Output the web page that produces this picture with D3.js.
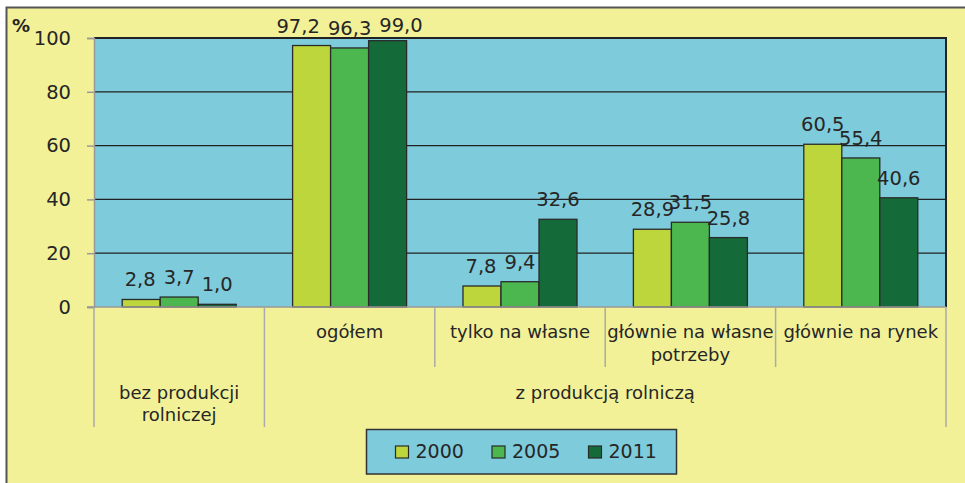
<!DOCTYPE html>
<html>
<head>
<meta charset="utf-8">
<script src="https://cdn.jsdelivr.net/npm/d3@7"></script>
<style>
  body { margin: 0; background: #fff; }
  svg text { font-family: "DejaVu Sans", sans-serif; fill: #262626; }
</style>
</head>
<body>
<div id="chart"></div>
<script>
// dane z wykresu (%)
const categories = ["bez produkcji rolniczej", "ogółem", "tylko na własne", "głównie na własne potrzeby", "głównie na rynek"];
const years = ["2000", "2005", "2011"];
const values2000 = [2.8, 97.2, 7.8, 28.9, 60.5];
const values2005 = [3.7, 96.3, 9.4, 31.5, 55.4];
const values2011 = [1.0, 99.0, 32.6, 25.8, 40.6];
const yTicks = [0, 20, 40, 60, 80, 100];
// etykiety osi X: wiersz 1 (podkategorie), wiersz 2 (grupy)
const catLabelsRow1 = [[], ["ogółem"], ["tylko na własne"], ["głównie na własne", "potrzeby"], ["głównie na rynek"]];
const groupLabels = [
  { from: 0, to: 0, lines: ["bez produkcji", "rolniczej"] },
  { from: 1, to: 4, lines: ["z produkcją rolniczą"] }
];

const colors = { "2000": "#bdd63b", "2005": "#4bb74e", "2011": "#146b39" };
const seriesByYear = { "2000": values2000, "2005": values2005, "2011": values2011 };

const W = 965, H = 483;
const plot = { left: 94, right: 946, top: 38, bottom: 307 };

const fmt = v => d3.format(".1f")(v).replace(".", ",");

const svg = d3.select("#chart").append("svg")
  .attr("width", W).attr("height", H);

// tło ramki
svg.append("rect")
  .attr("x", 6.5).attr("y", 7.5)
  .attr("width", W + 20).attr("height", H + 20)
  .attr("fill", "#f3f198")
  .attr("stroke", "#555").attr("stroke-width", 2);

// tło obszaru wykresu
svg.append("rect")
  .attr("x", plot.left).attr("y", plot.top)
  .attr("width", plot.right - plot.left).attr("height", plot.bottom - plot.top)
  .attr("fill", "#7ecbdb");

// ==== skale ====
const x = d3.scaleBand()
  .domain(categories)
  .range([plot.left, plot.right])
  .padding(0);

const xIn = d3.scaleBand()
  .domain(years)
  .range([0, x.bandwidth()])
  .paddingInner(0)
  .paddingOuter(0.742);

const y = d3.scaleLinear()
  .domain([0, 100])
  .range([plot.bottom, plot.top]);

// linie siatki
svg.append("g")
  .selectAll("line")
  .data(yTicks.filter(t => t > 0 && t < 100))
  .enter().append("line")
    .attr("x1", plot.left).attr("x2", plot.right)
    .attr("y1", d => y(d)).attr("y2", d => y(d))
    .attr("stroke", "#222").attr("stroke-width", 1.3);

// górna i prawa krawędź
svg.append("path")
  .attr("d", `M${plot.left},${y(100)}H${plot.right}V${plot.bottom}`)
  .attr("fill", "none")
  .attr("stroke", "#222").attr("stroke-width", 2);

// oś Y
const yAxis = svg.append("g")
  .attr("transform", `translate(${plot.left},0)`)
  .call(d3.axisLeft(y).tickValues(yTicks).tickSize(7).tickPadding(16).tickFormat(d3.format("d")));
yAxis.select(".domain").attr("stroke", "#999").attr("stroke-width", 1.5);
yAxis.selectAll(".tick line").attr("stroke", "#999").attr("stroke-width", 1.5);
yAxis.selectAll(".tick text")
  .style("font-family", "DejaVu Sans")
  .style("font-size", "19.5px")
  .attr("fill", "#262626");

svg.append("text")
  .attr("x", 12).attr("y", 32)
  .style("font-size", "18px").style("font-weight", "bold")
  .text("%");

// ==== słupki ====
const rows = categories.map((c, i) => ({ cat: c, items: years.map(yr => ({ year: yr, value: seriesByYear[yr][i] })) }));

const groups = svg.selectAll(".grp")
  .data(rows)
  .enter().append("g")
    .attr("class", "grp")
    .attr("transform", d => `translate(${x(d.cat)},0)`);

groups.selectAll("rect")
  .data(d => d.items)
  .enter().append("rect")
    .attr("x", d => xIn(d.year))
    .attr("y", d => y(d.value))
    .attr("width", xIn.bandwidth())
    .attr("height", d => y(0) - y(d.value))
    .attr("fill", d => colors[d.year])
    .attr("stroke", "#2a2a2a").attr("stroke-width", 1.3);

// etykiety wartości (nad słupkami, przycięte do górnej krawędzi)
groups.each(function () {
  const labels = d3.select(this).selectAll("text.val")
    .data(d => d.items)
    .enter().append("text")
      .attr("class", "val")
      .attr("x", d => xIn(d.year) + xIn.bandwidth() / 2)
      .attr("y", d => Math.max(y(d.value) - 13, 32))
      .attr("text-anchor", "middle")
      .style("font-size", "19.5px")
      .text(d => fmt(d.value));

  // rozsuń etykiety na tej samej wysokości, środkowa zostaje
  const nodes = labels.nodes();
  const gap = 8;
  const mid = nodes[1];
  const mb = mid.getBBox();
  const my = +mid.getAttribute("y");
  const left = nodes[0], right = nodes[2];
  const lb = left.getBBox(), rb = right.getBBox();
  if (Math.abs(+left.getAttribute("y") - my) < 6 && lb.x + lb.width + gap > mb.x) {
    left.setAttribute("x", mb.x - gap - lb.width / 2);
  }
  if (Math.abs(+right.getAttribute("y") - my) < 6 && mb.x + mb.width + gap > rb.x) {
    right.setAttribute("x", mb.x + mb.width + gap + rb.width / 2);
  }
});

// oś X (dolna linia)
svg.append("line")
  .attr("x1", plot.left - 7).attr("x2", plot.right)
  .attr("y1", plot.bottom).attr("y2", plot.bottom)
  .attr("stroke", "#999").attr("stroke-width", 1.5);

// separatory kategorii
const row1Bottom = 367, row2Bottom = 427;
const bounds = categories.map(c => x(c)).concat([plot.right]);
svg.append("g")
  .selectAll("line")
  .data(bounds)
  .enter().append("line")
    .attr("x1", d => d).attr("x2", d => d)
    .attr("y1", plot.bottom)
    .attr("y2", (d, i) => (i === 0 || i === 1 || i === bounds.length - 1) ? row2Bottom : row1Bottom)
    .attr("stroke", "#aaa").attr("stroke-width", 1.5);

// etykiety wiersz 1
svg.append("g")
  .selectAll("text")
  .data(catLabelsRow1.map((lines, i) => ({ lines, cat: categories[i] })))
  .enter().append("text")
    .attr("text-anchor", "middle")
    .style("font-size", "18px")
    .each(function (d) {
      const t = d3.select(this);
      d.lines.forEach((ln, k) => {
        t.append("tspan")
          .attr("x", x(d.cat) + x.bandwidth() / 2)
          .attr("y", 338 + k * 22.5)
          .text(ln);
      });
    });

// etykiety wiersz 2 (grupy)
svg.append("g")
  .selectAll("text")
  .data(groupLabels)
  .enter().append("text")
    .attr("text-anchor", "middle")
    .style("font-size", "18px")
    .each(function (d) {
      const t = d3.select(this);
      const cx = (x(categories[d.from]) + x(categories[d.to]) + x.bandwidth()) / 2;
      d.lines.forEach((ln, k) => {
        t.append("tspan")
          .attr("x", cx)
          .attr("y", 399 + k * 21.5)
          .text(ln);
      });
    });

// ==== legenda ====
const lg = svg.append("g").attr("transform", "translate(366.5,429.5)");
lg.append("rect")
  .attr("width", 310).attr("height", 44.5)
  .attr("fill", "#7ecbdb")
  .attr("stroke", "#333").attr("stroke-width", 1.5);

const items = lg.selectAll(".lg-item")
  .data(years)
  .enter().append("g")
    .attr("class", "lg-item")
    .attr("transform", (d, i) => `translate(${29 + i * 96.5},0)`);

items.append("rect")
  .attr("x", 0).attr("y", 16.5)
  .attr("width", 13).attr("height", 12)
  .attr("fill", d => colors[d])
  .attr("stroke", "#2a2a2a").attr("stroke-width", 1.2);

items.append("text")
  .attr("x", 20).attr("y", 28.5)
  .style("font-size", "19px")
  .text(d => d);
</script>
</body>
</html>
